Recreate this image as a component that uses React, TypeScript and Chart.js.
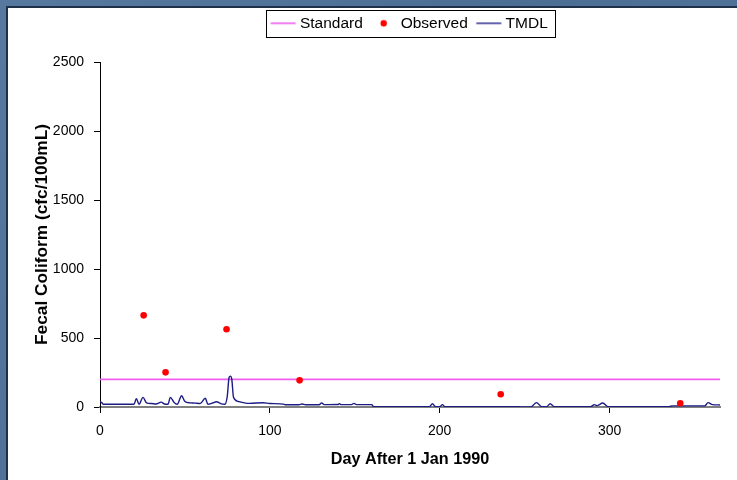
import React, { useEffect, useRef } from "react";
import { Chart, registerables } from "chart.js";

Chart.register(...registerables);

// ---------- data ----------
const X_TICKS = [0, 100, 200, 300];
const Y_TICKS = [0, 500, 1000, 1500, 2000, 2500];
const X_MAX = 365;
const Y_MAX = 2500;

const SERIES_NAMES = ["Standard", "Observed", "TMDL"];
const X_TITLE = "Day After 1 Jan 1990";
const Y_TITLE = "Fecal Coliform (cfc/100mL)";

const STANDARD_DAYS = [0, 365];
const STANDARD_VALUES = [200, 200];

const OBS_DAYS = [25.7, 38.6, 74.5, 117.5, 235.9, 341.6];
const OBS_VALUES = [664, 251, 563, 193, 92, 27];

const TMDL_DAYS = [
  0, 1, 2, 20, 21.4, 23, 25.3, 27.4, 30.4, 33, 36, 38, 40, 41.4, 43.5, 45.5, 48, 50,
  53, 56, 59, 62, 63.5, 66, 68.6, 71, 73.5, 74.9, 76, 76.8, 77.6, 78.6, 81.4, 85, 88,
  96, 100, 108, 109, 117, 119, 121, 129, 130.5, 132, 140, 141, 142, 148, 149.5, 151,
  160, 161, 194, 195.7, 197.5, 200, 201.6, 203, 247, 248, 252, 254, 257, 260, 263,
  265, 267.5, 289, 291, 292.5, 296, 299, 335, 337, 356, 358, 360.5, 365,
];
const TMDL_VALUES = [
  40, 32, 20, 20, 60, 20, 70, 30, 25, 22, 35, 22, 20, 70, 35, 20, 82, 40,
  30, 28, 25, 63, 20, 28, 38, 25, 20, 75, 215, 224, 200, 70, 40, 30, 26,
  31, 25, 21, 16, 16, 22, 16, 16, 30, 17, 18, 24, 17, 17, 26, 17,
  17, 3, 3, 24, 3, 3, 17, 3, 3, 0, 0, 3, 32, 3, 3,
  24, 3, 3, 17, 10, 29, 3, 3, 8, 8, 32, 17, 15,
];

// ---------- style ----------
const FONT = "'Liberation Sans', Arial, sans-serif";
const STD_COLOR = "#ee5fee";
const OBS_COLOR = "#ff0000";
const TMDL_COLOR = "#1c1c84";
const LEGEND_PAD = 10;
const LEGEND_MID = 23.3;
const PLOT_TOP = 62;

function pickLegendFont() {
  const ctx = document.createElement("canvas").getContext("2d")!;
  ctx.font = "18px monospace";
  const a = ctx.measureText("Standard Observed").width;
  ctx.font = "18px 'Liberation Sans Narrow', monospace";
  const b = ctx.measureText("Standard Observed").width;
  if (Math.abs(a - b) > 0.5) return { family: "'Liberation Sans Narrow', 'Arial Narrow'", size: 18.6 };
  return { family: FONT, size: 15.5 };
}

// legend swatches: image centre sits at item.x + boxWidth/2 (boxWidth = 20)
function lineImage(color: string, width: number, fs: number) {
  const c = document.createElement("canvas");
  c.width = 50;
  c.height = 6;
  const g = c.getContext("2d")!;
  const end = 15 + 20 + fs / 2 - 4.3;
  g.strokeStyle = color;
  g.lineWidth = width;
  g.beginPath();
  g.moveTo(end - 25, 3);
  g.lineTo(end, 3);
  g.stroke();
  return c;
}

function dotImage(color: string, fs: number) {
  const c = document.createElement("canvas");
  c.width = 50;
  c.height = 10;
  const g = c.getContext("2d")!;
  const cx = 15 + 20 + fs / 2 - 17;
  g.fillStyle = color;
  g.beginPath();
  g.arc(cx, 5, 3.2, 0, Math.PI * 2);
  g.fill();
  return c;
}

const backgroundPlugin = {
  id: "slideBackground",
  beforeDraw(chart: any) {
    const { ctx, width, height } = chart;
    ctx.save();
    const grad = ctx.createLinearGradient(0, 0, width, height);
    grad.addColorStop(0, "#58799f");
    grad.addColorStop(0.5, "#4c6d94");
    grad.addColorStop(1, "#56779d");
    ctx.fillStyle = grad;
    ctx.fillRect(0, 0, width, height);
    ctx.fillStyle = "#1f3049";
    ctx.fillRect(6, 6, width - 6, 2);
    ctx.fillRect(6, 6, 2, height - 6);
    ctx.fillStyle = "#ffffff";
    ctx.fillRect(8, 8, width - 8, height - 8);
    ctx.restore();
  },
};

const legendBoxPlugin = {
  id: "legendBox",
  afterDraw(chart: any) {
    const lg = chart.legend;
    if (!lg || !lg.legendHitBoxes || !lg.legendHitBoxes.length) return;
    const hb = lg.legendHitBoxes;
    const l = Math.min(...hb.map((h: any) => h.left)) - 6;
    const r = Math.max(...hb.map((h: any) => h.left + h.width)) + 7;
    const mid = hb[0].top + hb[0].height / 2;
    const t = mid - 13.3;
    const b = mid + 13.7;
    const ctx = chart.ctx;
    ctx.save();
    ctx.strokeStyle = "#000";
    ctx.lineWidth = 1;
    ctx.strokeRect(Math.round(l) + 0.5, Math.round(t) + 0.5, Math.round(r - l), Math.round(b - t));
    ctx.restore();
  },
};

export default function App() {
  const ref = useRef<HTMLCanvasElement>(null);

  useEffect(() => {
    if (!ref.current) return;
    const legendFont = pickLegendFont();
    const fs = legendFont.size;
    const padTop = LEGEND_MID - LEGEND_PAD - fs / 2;
    const spacer = PLOT_TOP - padTop - (fs + LEGEND_PAD + 10);
    const legendImages = [
      lineImage(STD_COLOR, 1.6, fs),
      dotImage(OBS_COLOR, fs),
      lineImage("#3c3c98", 1.6, fs),
    ];

    const chart = new Chart(ref.current, {
      type: "line",
      data: {
        datasets: [
          {
            label: SERIES_NAMES[0],
            data: STANDARD_DAYS.map((d, i) => ({ x: d, y: STANDARD_VALUES[i] })),
            borderColor: STD_COLOR,
            borderWidth: 1.8,
            pointRadius: 0,
            order: 2,
          },
          {
            label: SERIES_NAMES[1],
            data: OBS_DAYS.map((d, i) => ({ x: d, y: OBS_VALUES[i] })),
            showLine: false,
            pointRadius: 3.3,
            pointBackgroundColor: OBS_COLOR,
            pointBorderWidth: 0,
            borderColor: OBS_COLOR,
            order: 0,
          },
          {
            label: SERIES_NAMES[2],
            data: TMDL_DAYS.map((d, i) => ({ x: d, y: TMDL_VALUES[i] })),
            borderColor: TMDL_COLOR,
            borderWidth: 1.4,
            pointRadius: 0,
            cubicInterpolationMode: "monotone",
            order: 1,
          },
        ],
      },
      options: {
        animation: false,
        responsive: false,
        maintainAspectRatio: false,
        devicePixelRatio: 1,
        layout: { padding: { top: padTop, left: 0, right: 17, bottom: 0 } },
        events: [],
        plugins: {
          tooltip: { enabled: false },
          title: {
            display: true,
            text: " ",
            position: "top",
            weight: 500,
            padding: 0,
            fullSize: false,
            font: { size: spacer, lineHeight: 1 },
          } as any,
          legend: {
            display: true,
            position: "top",
            align: "center",
            fullSize: false,
            labels: {
              usePointStyle: true,
              pointStyleWidth: 20,
              padding: LEGEND_PAD,
              color: "#000",
              font: { family: legendFont.family, size: fs },
              generateLabels: (c: any) => {
                const items = (Chart.defaults.plugins.legend.labels as any).generateLabels(c);
                return items
                  .map((it: any) => ({ ...it, pointStyle: legendImages[it.datasetIndex] }))
                  .sort((a: any, b: any) => a.datasetIndex - b.datasetIndex);
              },
            },
          },
        },
        scales: {
          x: {
            type: "linear",
            min: 0,
            max: X_MAX,
            afterBuildTicks: (s: any) => {
              s.ticks = X_TICKS.map((v) => ({ value: v }));
            },
            afterFit: (s: any) => {
              s.height = 73;
            },
            ticks: {
              color: "#000",
              padding: 10,
              maxRotation: 0,
              autoSkip: false,
              font: { family: FONT, size: 14 },
              callback: (v: any) => String(v),
            },
            grid: { drawOnChartArea: false, drawTicks: true, tickLength: 6, tickColor: "#000", tickWidth: 1 },
            border: { display: true, color: "#808080", width: 2 },
            title: {
              display: true,
              text: X_TITLE,
              color: "#000",
              font: { family: FONT, size: 16.2, weight: "bold" },
              padding: { top: 0, bottom: 11 },
            },
          },
          y: {
            type: "linear",
            min: 0,
            max: Y_MAX,
            afterBuildTicks: (s: any) => {
              s.ticks = Y_TICKS.map((v) => ({ value: v }));
            },
            afterFit: (s: any) => {
              s.width = 100;
            },
            ticks: {
              color: "#000",
              padding: 10,
              font: { family: FONT, size: 14 },
              callback: (v: any) => String(v),
            },
            grid: { drawOnChartArea: false, drawTicks: true, tickLength: 6, tickColor: "#000", tickWidth: 1 },
            border: { display: true, color: "#000", width: 1 },
            title: {
              display: true,
              text: Y_TITLE,
              color: "#000",
              font: { family: FONT, size: 17.3, weight: "bold" },
              padding: { top: 32, bottom: 0 },
            },
          },
        },
      },
      plugins: [backgroundPlugin, legendBoxPlugin],
    } as any);

    return () => chart.destroy();
  }, []);

  return (
    <div style={{ position: "fixed", left: 0, top: 0, width: 737, height: 480, overflow: "hidden" }}>
      <canvas ref={ref} width={737} height={480} style={{ display: "block", width: 737, height: 480 }} />
    </div>
  );
}
